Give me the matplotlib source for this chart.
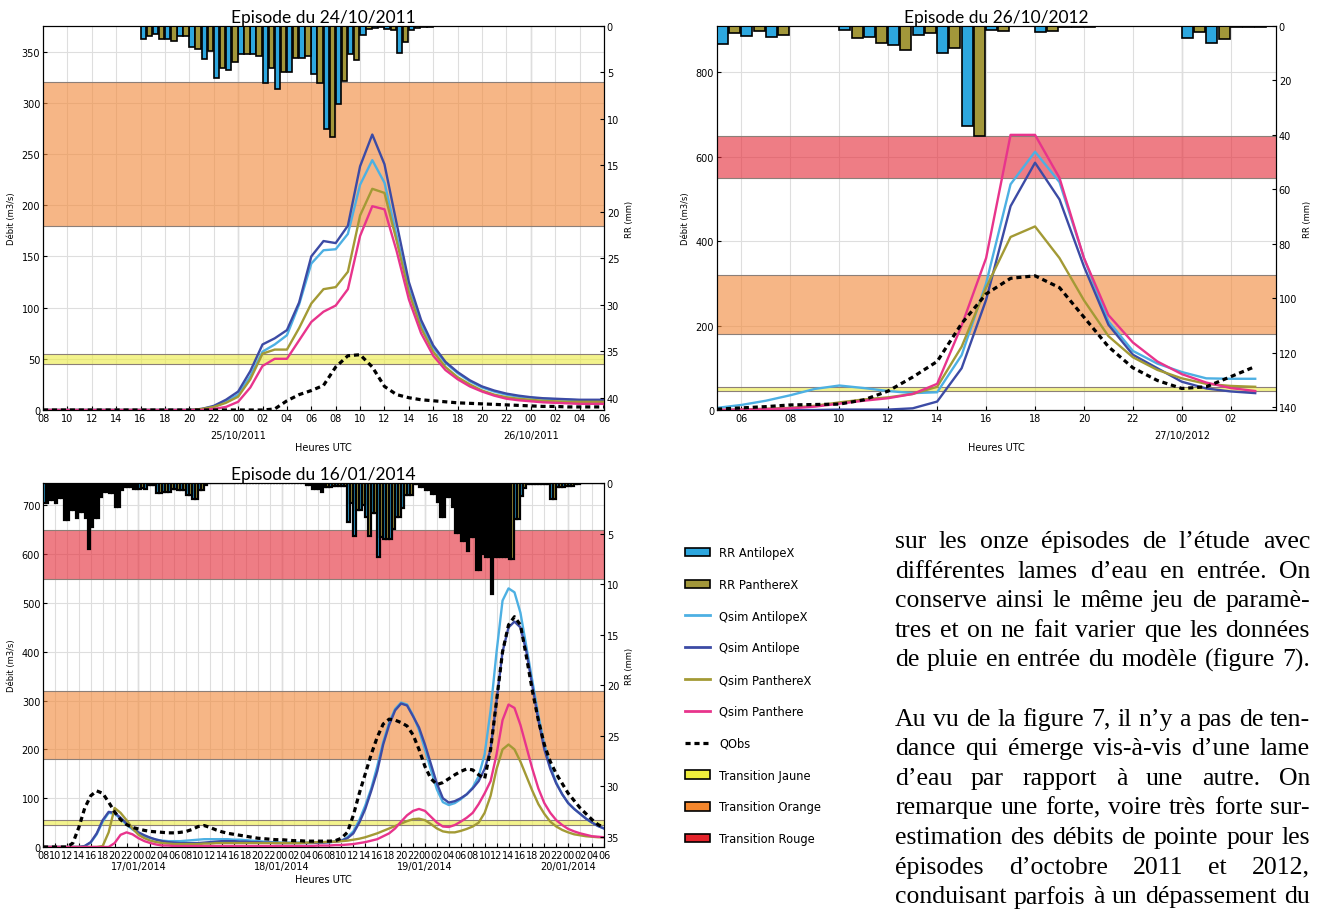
import numpy as np
import matplotlib.pyplot as plt
from matplotlib.patches import Patch
from matplotlib.lines import Line2D

W, H = 1318, 912

# ---------------- data ----------------
# Episode 24/10/2011 : hourly from 24/10 08:00 (index 0) to 26/10 06:00 (index 46)
q1_antilopex = [0]*13 + [1, 3, 8, 15, 33, 57, 64, 73, 103, 143, 156, 157, 172, 220, 244, 222, 170,
                         118, 84, 61, 46, 36, 28, 22, 18, 15, 13, 12, 11, 10.5, 10, 9.5, 9.5, 9.5]
q1_antilope = [0]*13 + [1, 4, 10, 18, 38, 64, 70, 78, 105, 150, 165, 163, 180, 238, 269, 240, 182,
                        125, 88, 63, 47, 37, 29, 23, 19, 16, 14, 12.5, 11.5, 11, 10.5, 10, 10, 10]
q1_pantherex = [0]*13 + [1, 3, 7, 13, 30, 55, 59, 59, 80, 104, 118, 120, 135, 190, 216, 212, 165,
                         115, 80, 57, 42, 32, 25, 19, 15, 12.5, 11, 10, 9, 8.5, 8, 8, 8, 8]
q1_panthere = [0]*13 + [0, 1, 3, 8, 22, 43, 50, 50, 68, 86, 96, 102, 118, 170, 199, 196, 155,
                        108, 75, 53, 39, 30, 23, 18, 14, 11, 9.5, 8.5, 7.5, 7, 6.5, 6, 6, 6]
q1_obs = [0]*19 + [1, 9, 15, 19, 24, 42, 53, 54, 42, 23, 15, 12, 10, 9, 8, 7, 6.5, 6, 5.5, 5,
                   4.5, 4, 3.5, 3.5, 3, 3, 3, 3]
rr1_start = 8
rr1_antilopex = [1.4, 0.9, 1.4, 1.1, 2.3, 3.6, 5.6, 4.7, 3.0, 3.0, 6.1, 6.8, 5.0, 3.4, 5.2,
                 11.1, 8.4, 3.0, 1.0, 0.2, 0.3, 2.9, 0.4, 0.1, 0.05]
rr1_pantherex = [1.1, 1.4, 1.6, 1.1, 2.5, 2.7, 4.5, 3.9, 3.0, 3.2, 4.5, 5.0, 3.4, 3.2, 6.1,
                 11.9, 5.9, 3.7, 0.3, 0.1, 0.4, 1.7, 0.2, 0.1, 0.05]

# Episode 26/10/2012 : hourly from 26/10 05:00 (index 0) to 27/10 03:00
q2_antilopex = [5, 12, 22, 35, 50, 58, 52, 45, 40, 42, 130, 300, 535, 612, 540, 360, 210, 140,
                110, 90, 75, 74, 74]
q2_antilope = [0, 0, 0, 0, 0, 1, 1, 1, 4, 20, 99, 261, 483, 586, 499, 340, 202, 131, 99, 67,
               51, 44, 40]
q2_pantherex = [0, 1, 3, 5, 10, 18, 25, 30, 38, 55, 150, 290, 410, 435, 360, 260, 175, 125, 95,
                75, 62, 57, 55]
q2_panthere = [0, 1, 2, 4, 8, 15, 22, 28, 38, 62, 200, 360, 652, 652, 550, 360, 225, 160, 115,
               85, 65, 52, 45]
q2_obs = [2, 5, 8, 12, 13, 14, 24, 45, 78, 115, 205, 275, 312, 318, 290, 220, 150, 100, 70,
          51, 55, 79, 103]
rr2_antilopex = [6.6, 3.8, 4.2, 0, 0, 1.6, 4.2, 7.1, 3.2, 10.0, 36.6, 1.6, 0.1, 2.3, 0.2, 0.2,
                 0.1, 0.1, 0.1, 4.3, 6.2, 0.2, 0.2]
rr2_pantherex = [2.6, 1.7, 3.4, 0, 0, 4.4, 6.2, 8.7, 2.7, 8.1, 40.3, 1.7, 0.1, 1.7, 0.2, 0.1,
                 0.1, 0.1, 0.1, 2.2, 4.6, 0.2, 0.1]

# Episode 16/01/2014 : hourly from 16/01 08:00 (index 0) to 20/01 06:00 (index 94)
q3_antilopex = [0, 0, 0, 0, 0, 0, 0, 2, 9, 26,
                52, 70, 68, 58, 46, 36, 28, 22, 18, 15,
                13, 12, 12, 12, 13, 14, 15, 16, 16, 16,
                16, 16, 15, 15, 14, 13, 12, 11, 10, 10,
                9, 9, 9, 9, 9, 9, 9, 10, 10, 11,
                13, 20, 32, 55, 85, 120, 165, 215, 255, 283,
                296, 292, 270, 240, 200, 158, 118, 92, 86, 90,
                98, 108, 122, 145, 190, 280, 400, 505, 530, 522,
                480, 410, 340, 270, 210, 165, 132, 108, 90, 78,
                68, 58, 50, 43, 38]
q3_antilope = [0, 0, 0, 0, 0, 0, 0, 2, 10, 28,
               55, 72, 70, 60, 48, 38, 30, 24, 19, 15,
               12, 10, 9, 8, 8, 8, 8, 9, 10, 11,
               12, 12, 12, 11, 11, 10, 10, 9, 9, 8,
               8, 8, 8, 8, 8, 8, 9, 9, 10, 11,
               13, 18, 28, 50, 78, 115, 155, 210, 250, 280,
               294, 290, 268, 245, 210, 170, 130, 100, 91, 94,
               100, 108, 120, 135, 160, 200, 300, 400, 450, 462,
               450, 400, 330, 260, 200, 160, 130, 108, 90, 78,
               68, 58, 50, 43, 38]
q3_pantherex = [0, 0, 0, 0, 0, 0, 0, 0, 0, 0,
                2, 30, 80, 70, 55, 38, 25, 18, 13, 10,
                8, 7, 6, 6, 6, 6, 6, 7, 7, 8,
                8, 8, 8, 8, 8, 8, 8, 8, 8, 8,
                8, 8, 8, 8, 9, 9, 10, 10, 11, 11,
                12, 13, 15, 17, 20, 24, 28, 33, 38, 43,
                48, 53, 57, 58, 55, 47, 38, 32, 30, 30,
                33, 37, 42, 50, 70, 105, 160, 200, 210, 200,
                175, 145, 115, 88, 68, 52, 42, 35, 30, 26,
                24, 22, 21, 20, 20]
q3_panthere = [0, 0, 0, 0, 0, 0, 0, 0, 0, 0,
               0, 0, 8, 25, 30, 26, 18, 12, 8, 5,
               3, 3, 2, 2, 2, 2, 2, 2, 2, 2,
               2, 2, 2, 2, 2, 2, 2, 2, 2, 2,
               2, 2, 2, 2, 2, 2, 3, 3, 3, 4,
               4, 5, 6, 8, 10, 13, 16, 22, 28, 38,
               52, 65, 74, 78, 74, 62, 50, 42, 41, 45,
               52, 60, 70, 88, 110, 135, 190, 260, 292, 285,
               250, 205, 160, 120, 90, 70, 55, 45, 37, 32,
               28, 25, 22, 21, 20]
q3_obs = [0, 0, 0, 0, 0, 8, 40, 80, 105, 115,
          110, 92, 72, 56, 46, 40, 37, 34, 32, 31,
          30, 29, 29, 30, 32, 36, 42, 44, 40, 35,
          31, 28, 26, 24, 22, 20, 18, 17, 16, 15,
          15, 14, 13, 13, 12, 12, 12, 12, 12, 13,
          18, 30, 65, 110, 150, 190, 225, 252, 262, 260,
          255, 248, 230, 200, 165, 140, 128, 132, 140, 148,
          155, 160, 158, 148, 140, 200, 300, 400, 455, 472,
          455, 390, 320, 260, 210, 175, 150, 130, 110, 95,
          80, 68, 56, 46, 40]
rr3_antilopex = [2.0, 1.7, 2.0, 1.5, 3.7, 2.7, 2.9, 3.5, 4.4, 3.5,
                 0.9, 1.0, 2.4, 0.7, 0.4, 0.6, 0.6, 0.6, 0.2, 1.0,
                 0.9, 0.9, 0.6, 0.7, 1.2, 1.55, 0.7, 0.2, 0, 0,
                 0, 0, 0, 0, 0, 0, 0, 0, 0, 0,
                 0, 0, 0, 0, 0.2, 0.6, 0.6, 0.4, 0.4, 0.3,
                 0.3, 3.9, 5.2, 2.7, 3.4, 3.0, 7.3, 5.5, 5.5, 3.4,
                 2.5, 1.2, 0.1, 0.4, 0.7, 1.1, 1.9, 3.4, 1.4, 4.9,
                 5.7, 6.7, 5.3, 8.6, 7.3, 11.0, 7.3, 7.3, 7.5, 3.6,
                 1.25, 0.1, 0.1, 0.1, 0.1, 1.6, 0.4, 0.4, 0.3, 0.1,
                 0, 0, 0, 0]
rr3_pantherex = [2.0, 1.7, 1.5, 3.7, 2.7, 3.5, 2.9, 6.5, 3.5, 1.4,
                 0.9, 1.0, 2.4, 0.4, 0.4, 0.6, 0.5, 0.2, 0.2, 1.0,
                 0.9, 0.6, 0.7, 0.7, 1.2, 1.55, 0.7, 0, 0, 0,
                 0, 0, 0, 0, 0, 0, 0, 0, 0, 0,
                 0, 0, 0, 0, 0.2, 0.6, 0.9, 0.4, 0.3, 0.3,
                 0.3, 2.0, 2.7, 2.2, 5.2, 3.0, 5.3, 5.5, 4.5, 3.4,
                 1.2, 1.2, 0.1, 0.4, 0.7, 1.1, 3.4, 1.4, 2.4, 4.9,
                 5.7, 5.3, 8.6, 7.0, 7.3, 7.3, 7.3, 7.3, 7.5, 3.6,
                 0.5, 0.1, 0.1, 0.1, 0.1, 1.6, 0.4, 0.3, 0.3, 0.1,
                 0, 0, 0, 0]

# alert thresholds (m3/s)
jaune = (45, 55)
orange = (180, 320)
rouge = (550, 650)

para1 = ["sur les onze épisodes de l’étude avec",
         "différentes lames d’eau en entrée. On",
         "conserve ainsi le même jeu de paramè-",
         "tres et on ne fait varier que les données",
         "de pluie en entrée du modèle (figure 7)."]
para2 = ["Au vu de la figure 7, il n’y a pas de ten-",
         "dance qui émerge vis-à-vis d’une lame",
         "d’eau par rapport à une autre. On",
         "remarque une forte, voire très forte sur-",
         "estimation des débits de pointe pour les",
         "épisodes d’octobre 2011 et 2012,",
         "conduisant parfois à un dépassement du"]

# ---------------- style ----------------
C_QAX = '#4db0e3'
C_QA = '#3c4ba5'
C_QPX = '#a39a35'
C_QP = '#e8348c'
C_RA = '#2da7df'
C_RP = '#a2973a'
C_J, C_O, C_R = '#ecec46', '#f28a3c', '#e52d3a'
OBS_LS = (0, (1.6, 1.2))

plt.rcParams['font.family'] = 'DejaVu Sans'
fig = plt.figure(figsize=(W / 100, H / 100), dpi=100)


def rect(x0, y0, x1, y1):
    return [x0 / W, 1 - y1 / H, (x1 - x0) / W, (y1 - y0) / H]


def episode(box, title, start, q, rr_t0, rra, rrp, xlim, ylim, yticks, rrmax, rrticks,
            dates, date_off, xpad, bar_w=0.45, bar_lw=1.2):
    ax = fig.add_axes(rect(*box))
    t = np.arange(len(q[0]))
    for lo, hi, c in [(jaune[0], jaune[1], C_J), (orange[0], orange[1], C_O),
                      (rouge[0], rouge[1], C_R)]:
        ax.axhspan(lo, hi, color=c, alpha=0.62, lw=0, zorder=1)
        for v in (lo, hi):
            ax.axhline(v, color='#8c7f78', lw=0.8, zorder=1.1)
    for s, c in zip(q[:4], [C_QAX, C_QA, C_QPX, C_QP]):
        ax.plot(t, s, color=c, lw=1.7, zorder=3)
    ax.plot(t, q[4], color='black', lw=2.3, ls=OBS_LS, zorder=4)
    ax.set_xlim(*xlim)
    ax.set_ylim(*ylim)
    ax.set_yticks(yticks)
    xt = np.arange(0, xlim[1] + 0.01, 2)
    ax.set_xticks(xt)
    ax.set_xticklabels(['%02d' % ((start + int(v)) % 24) for v in xt])
    ax.grid(True, color='#dedede', lw=0.8, zorder=0)
    ax.set_axisbelow(True)
    for d, lab in dates:
        ax.axvline(d, color='#cfcfcf', lw=1.0, zorder=0.5)
        ax.annotate(lab, xy=(d, 0), xycoords=ax.get_xaxis_transform(),
                    xytext=(0, date_off), textcoords='offset points',
                    ha='center', va='center', fontsize=7)
    ax.tick_params(labelsize=7, length=3, direction='in', pad=2)
    ax.set_ylabel('Débit (m3/s)', fontsize=6, labelpad=4)
    ax.set_xlabel('Heures UTC', fontsize=7, labelpad=xpad)
    ax.set_title(title, fontsize=12.5, family='Lato', pad=3)

    ax2 = ax.twinx()
    tb = np.arange(len(rra)) + rr_t0
    ax2.bar(tb, rra, width=bar_w, align='edge', color=C_RA, edgecolor='black', lw=bar_lw)
    ax2.bar(tb + 0.5, rrp, width=bar_w, align='edge', color=C_RP, edgecolor='black', lw=bar_lw)
    ax2.set_ylim(rrmax, 0)
    ax2.set_yticks(rrticks)
    ax2.set_xlim(*xlim)
    ax2.tick_params(labelsize=7, length=3, direction='in', pad=2)
    ax2.set_ylabel('RR (mm)', fontsize=6, labelpad=4)
    return ax


episode((43, 27, 604, 411), 'Episode du 24/10/2011', 8,
        [q1_antilopex, q1_antilope, q1_pantherex, q1_panthere, q1_obs],
        rr1_start, rr1_antilopex, rr1_pantherex, (0, 46), (0, 375), range(0, 351, 50),
        41.3, range(0, 41, 5), [(16, '25/10/2011'), (40, '26/10/2011')], -18, 14)

ax2 = episode((717, 27, 1276, 411), 'Episode du 26/10/2012', 5,
              [q2_antilopex, q2_antilope, q2_pantherex, q2_panthere, q2_obs],
              0, rr2_antilopex, rr2_pantherex, (0, 22.85), (0, 910), range(0, 801, 200),
              141, range(0, 141, 20), [(19, '27/10/2012')], -18, 14)
# panel 2 ticks at even hours of the day
xt2 = np.arange(1, 23, 2)
ax2.set_xticks(xt2)
ax2.set_xticklabels(['%02d' % ((5 + v) % 24) for v in xt2])

episode((43, 484, 604, 848), 'Episode du 16/01/2014', 8,
        [q3_antilopex, q3_antilope, q3_pantherex, q3_panthere, q3_obs],
        0, rr3_antilopex, rr3_pantherex, (0, 94), (0, 746), range(0, 701, 100),
        36, range(0, 36, 5),
        [(16, '17/01/2014'), (40, '18/01/2014'), (64, '19/01/2014'), (88, '20/01/2014')],
        -14, 10, bar_w=0.42, bar_lw=1.6)

# ---------------- legend ----------------
handles = [
    Patch(facecolor=C_RA, edgecolor='black', lw=1.2, label='RR AntilopeX'),
    Patch(facecolor=C_RP, edgecolor='black', lw=1.2, label='RR PanthereX'),
    Line2D([], [], color=C_QAX, lw=2, label='Qsim AntilopeX'),
    Line2D([], [], color=C_QA, lw=2, label='Qsim Antilope'),
    Line2D([], [], color=C_QPX, lw=2, label='Qsim PanthereX'),
    Line2D([], [], color=C_QP, lw=2, label='Qsim Panthere'),
    Line2D([], [], color='black', lw=2.3, ls=OBS_LS, label='QObs'),
    Patch(facecolor='#f0ee3c', edgecolor='black', lw=1.2, label='Transition Jaune'),
    Patch(facecolor='#f4862c', edgecolor='black', lw=1.2, label='Transition Orange'),
    Patch(facecolor='#e4232b', edgecolor='black', lw=1.2, label='Transition Rouge'),
]
fig.legend(handles=handles, loc='upper left', bbox_to_anchor=(685 / W, 1 - 547 / H),
           frameon=False, fontsize=8.3, labelspacing=1.63, handlelength=2.2,
           handleheight=0.75, handletextpad=0.75, borderpad=0, borderaxespad=0)

# ---------------- justified text ----------------
fig.canvas.draw()
rend = fig.canvas.get_renderer()
x0, x1 = 895, 1310
serif = 'Liberation Serif'
probe = fig.text(0, 0, para1[3], fontsize=10, family=serif)
fs = 10 * (x1 - x0) / probe.get_window_extent(rend).width * 0.97
probe.remove()

y = 542
for block in (para1, [''], para2):
    for line in block:
        if line:
            words = line.split(' ')
            txts = [fig.text(0, 1 - y / H, w, fontsize=fs, family=serif,
                             va='center', ha='left') for w in words]
            widths = [tx.get_window_extent(rend).width for tx in txts]
            gap = (x1 - x0 - sum(widths)) / (len(words) - 1)
            xx = x0
            for tx, wd in zip(txts, widths):
                tx.set_x(xx / W)
                xx += wd + gap
        y += 29.6

fig.savefig('out.png', dpi=100)
